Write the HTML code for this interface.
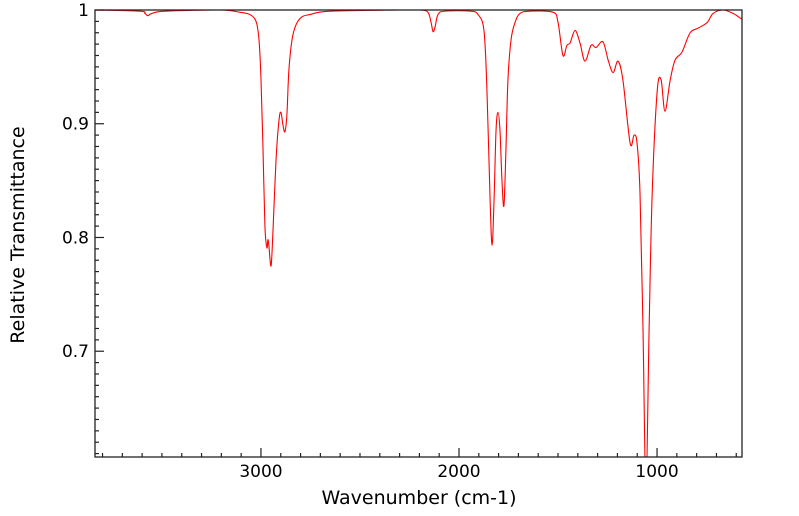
<!DOCTYPE html>
<html><head><meta charset="utf-8"><style>
body{margin:0;background:#fff;}
svg{display:block;font-family:"DejaVu Sans","Liberation Sans",sans-serif;}
</style></head><body>
<svg id="chart" width="799" height="516" viewBox="0 0 799 516" xmlns="http://www.w3.org/2000/svg">
<g id="ticks"></g>
<path id="spec" fill="none" stroke="#ff0000" stroke-width="1.1"/>
<rect x="95" y="10" width="647" height="447" fill="none" stroke="#222" stroke-width="1.3"/>
<text x="419" y="504" font-size="19" text-anchor="middle">Wavenumber (cm-1)</text>
<text transform="translate(24,235) rotate(-90)" font-size="19" text-anchor="middle">Relative Transmittance</text>
</svg>
<script>
const wavenumbers=[3838,3611,3586,3571,3551,3485,3207,3106,3056,3025,3010,3000,2990,2980,2970,2965,2960,2949,2939,2924,2909,2899,2889,2879,2869,2859,2843,2823,2793,2753,2652,2298,2197,2157,2141,2131,2121,2106,2071,1944,1904,1874,1859,1843,1833,1823,1813,1803,1793,1783,1773,1763,1753,1737,1717,1692,1641,1525,1500,1475,1455,1439,1414,1389,1364,1333,1308,1273,1247,1222,1197,1172,1136,1116,1101,1086,1071,1056,1040,1025,1000,980,960,934,909,874,833,793,747,717,667,616,581,571];
const transmittance=[1.0,0.999,0.997,0.995,0.997,0.999,1.0,0.998,0.996,0.99,0.974,0.94,0.88,0.81,0.791,0.798,0.793,0.775,0.807,0.868,0.903,0.91,0.899,0.893,0.908,0.947,0.974,0.987,0.994,0.996,0.999,1.0,1.0,0.998,0.989,0.981,0.985,0.996,0.999,0.999,0.996,0.982,0.93,0.833,0.793,0.833,0.894,0.91,0.894,0.85,0.828,0.877,0.938,0.974,0.989,0.997,0.999,0.998,0.989,0.96,0.969,0.971,0.982,0.971,0.955,0.969,0.967,0.972,0.956,0.945,0.955,0.938,0.883,0.89,0.883,0.839,0.72,0.58,0.72,0.836,0.927,0.939,0.911,0.938,0.956,0.963,0.98,0.984,0.989,0.997,1.0,0.997,0.993,0.992];
const xTicks=[3000,2000,1000];
const yTicks=[1,0.9,0.8,0.7];
const yTickLabels=["1","0.9","0.8","0.7"];
const X0=95,X1=742,Y0=10,Y1=457,WMAX=3838,WMIN=571,TMAX=1,TMIN=0.607;
function xs(w){return X0+(WMAX-w)/(WMAX-WMIN)*(X1-X0);}
function ys(t){return Y0+(TMAX-t)/(TMAX-TMIN)*(Y1-Y0);}
const pts=wavenumbers.map((w,i)=>[xs(w),ys(transmittance[i])]);
let d="M"+pts[0][0].toFixed(2)+","+pts[0][1].toFixed(2);
for(let i=0;i<pts.length-1;i++){
  const p0=pts[Math.max(0,i-1)],p1=pts[i],p2=pts[i+1],p3=pts[Math.min(pts.length-1,i+2)];
  const c1=[p1[0]+(p2[0]-p0[0])/6,p1[1]+(p2[1]-p0[1])/6];
  const c2=[p2[0]-(p3[0]-p1[0])/6,p2[1]-(p3[1]-p1[1])/6];
  d+=" C"+c1[0].toFixed(2)+","+c1[1].toFixed(2)+" "+c2[0].toFixed(2)+","+c2[1].toFixed(2)+" "+p2[0].toFixed(2)+","+p2[1].toFixed(2);
}
const sp=document.getElementById('spec');
sp.setAttribute('d',d);
const svg=document.getElementById('chart');
const clip=document.createElementNS("http://www.w3.org/2000/svg","clipPath");
clip.setAttribute('id','pc');
const cr=document.createElementNS("http://www.w3.org/2000/svg","rect");
cr.setAttribute('x',X0);cr.setAttribute('y',Y0);cr.setAttribute('width',X1-X0);cr.setAttribute('height',Y1-Y0);
clip.appendChild(cr);svg.insertBefore(clip,svg.firstChild);
sp.setAttribute('clip-path','url(#pc)');
const g=document.getElementById('ticks');
const NS="http://www.w3.org/2000/svg";
function line(x1,y1,x2,y2){const l=document.createElementNS(NS,'line');l.setAttribute('x1',x1);l.setAttribute('y1',y1);l.setAttribute('x2',x2);l.setAttribute('y2',y2);l.setAttribute('stroke','#222');l.setAttribute('stroke-width','1.2');g.appendChild(l);return l;}
for(let w=3800;w>=600;w-=100){
  const x=xs(w);const major=w%1000===0;
  const l=line(x,Y1,x,Y1-(major?9:4));
  
  
}
for(let k=61;k<=100;k++){
  const t=k/100;const y=ys(t);const major=k%10===0;
  const l=line(X0,y,X0+(major?9:4),y);
  
  
}
xTicks.forEach(w=>{
  const t=document.createElementNS(NS,'text');
  t.setAttribute('x',xs(w));t.setAttribute('y',477);t.setAttribute('font-size','17');t.setAttribute('text-anchor','middle');
  t.textContent=String(w);
  
  
  svg.appendChild(t);
});
yTicks.forEach((v,i)=>{
  const t=document.createElementNS(NS,'text');
  t.setAttribute('x',89);t.setAttribute('y',ys(v)+6);t.setAttribute('font-size','17');t.setAttribute('text-anchor','end');
  t.textContent=yTickLabels[i];
  
  
  svg.appendChild(t);
});
</script>
</body></html>
